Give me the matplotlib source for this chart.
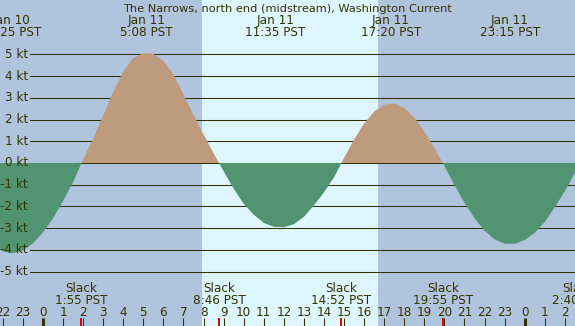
from matplotlib import pyplot as plt
import numpy as np

# current speed (kt) every half hour, from Jan 10 21:30 PST
curve_start = -2.5
curve_step = 0.5
speed = [-3.80, -4.08, -4.15, -4.03, -3.70, -3.20, -2.55, -1.75, -0.88, 0.16,
         1.12, 2.20, 3.28, 4.22, 4.84, 5.06, 5.03, 4.70, 4.08, 3.15,
         2.22, 1.32, 0.45, -0.38, -1.18, -1.88, -2.38, -2.76, -2.94, -2.96,
         -2.82, -2.48, -1.95, -1.35, -0.66, 0.23, 1.08, 1.82, 2.37, 2.69,
         2.74, 2.53, 2.09, 1.46, 0.69, -0.14, -1.01, -1.83, -2.54, -3.12,
         -3.52, -3.72, -3.73, -3.55, -3.22, -2.72, -2.04, -1.30, -0.45, 0.30]

# max flood / ebb events (day offset from Jan 11)
peak_dates = ['Jan 10', 'Jan 11', 'Jan 11', 'Jan 11', 'Jan 11']
peak_times = ['22:25', '5:08', '11:35', '17:20', '23:15']
peak_days = [-1, 0, 0, 0, 0]

slack_times = ['1:55', '8:46', '14:52', '19:55', '2:40']
slack_days = [0, 0, 0, 0, 1]

sunrise = '7:56'
sunset = '16:41'

kt_levels = list(range(5, -6, -1))
hour_ticks = list(range(-2, 27))

title = 'The Narrows, north end (midstream), Washington Current'

NIGHT = '#b0c4de'
DAY = '#ddf6ff'
FLOOD = '#bd9b7c'
EBB = '#529472'
FG = '#333300'
FS = 8.64
W, H = 575, 326


def hrs(s, day=0):
    h, m = s.split(':')
    return day * 24 + int(h) + int(m) / 60


def fy(ypix):
    # pixel row (from top) -> axes fraction
    return 1 - ypix / H


def fx(xpix):
    return xpix / W


t = curve_start + curve_step * np.arange(len(speed))
v = np.array(speed)

fig = plt.figure(figsize=(W / 100, H / 100), dpi=100, facecolor=NIGHT)
ax = fig.add_axes([0, 0, 1, 1])
ax.set_facecolor(NIGHT)
ax.set_xlim((0 - 43) / 20.07, (W - 43) / 20.07)
ax.set_ylim(-7.51, 7.51)
for s in ax.spines.values():
    s.set_visible(False)
ax.set_xticks([])
ax.set_yticks([])

ax.axvspan(hrs(sunrise), hrs(sunset), color=DAY, lw=0, zorder=0)

for k in kt_levels:
    ax.axhline(k, xmin=fx(30), xmax=1, color=FG, lw=0.75, zorder=1)
    ax.text(fx(28), k, f'{k} kt', transform=ax.get_yaxis_transform(),
            ha='right', va='center', fontsize=FS, color=FG)

ax.fill_between(t, v, 0, where=v >= 0, interpolate=True, color=FLOOD, lw=0, zorder=2)
ax.fill_between(t, v, 0, where=v <= 0, interpolate=True, color=EBB, lw=0, zorder=2)

xt = ax.get_xaxis_transform()
ax.text(0.5, fy(11.5), title, transform=ax.transAxes, ha='center', va='baseline',
        fontsize=8.2, color=FG)
for d, tm, dd in zip(peak_dates, peak_times, peak_days):
    x = hrs(tm, dd)
    ax.text(x, fy(24), d, transform=xt, ha='center', va='baseline', fontsize=FS, color=FG)
    ax.text(x, fy(36.5), f'{tm} PST', transform=xt, ha='center', va='baseline',
            fontsize=FS, color=FG)

for tm, dd in zip(slack_times, slack_days):
    x = hrs(tm, dd)
    ax.text(x, fy(291.5), 'Slack', transform=xt, ha='center', va='baseline',
            fontsize=FS, color=FG)
    ax.text(x, fy(304), f'{tm} PST', transform=xt, ha='center', va='baseline',
            fontsize=FS, color=FG)

for h in hour_ticks:
    ax.text(h, fy(316), str(h % 24), transform=xt, ha='center', va='baseline',
            fontsize=FS, color=FG)
    lw = 2.2 if h % 24 == 0 else 0.75
    ax.plot([h, h], [fy(318), 0], transform=xt, color=FG, lw=lw,
            solid_capstyle='butt', zorder=3)

for tm, dd in zip(slack_times, slack_days):
    x = hrs(tm, dd)
    ax.plot([x, x], [fy(318), 0], transform=xt, color='#e00000', lw=1.4,
            solid_capstyle='butt', zorder=4)

fig.savefig('out.png', dpi=100, facecolor=NIGHT)
